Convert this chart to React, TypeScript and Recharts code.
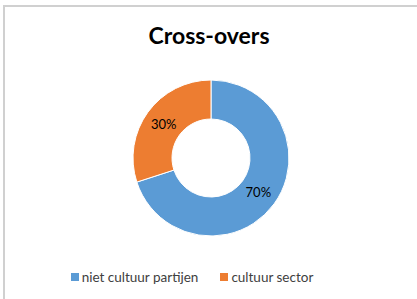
import React from "react";
import { PieChart, Pie, Cell, Legend } from "recharts";

const categories = ["niet cultuur partijen", "cultuur sector"];
const values = [70, 30];
const COLORS = ["#5B9BD5", "#ED7D31"];

const data = categories.map((name, i) => ({ name, value: values[i] }));

const RADIAN = Math.PI / 180;
const FONT = "Lato, 'Open Sans', sans-serif";

const renderLabel = (props: any) => {
  const { cx, cy, midAngle, innerRadius, outerRadius, percent } = props;
  const r = (innerRadius + outerRadius) / 2;
  const x = cx + r * Math.cos(-midAngle * RADIAN);
  const y = cy + r * Math.sin(-midAngle * RADIAN);
  return (
    <text
      x={x}
      y={y}
      fill="#000"
      textAnchor="middle"
      dominantBaseline="central"
      fontSize={13}
      fontFamily={FONT}
    >
      {`${Math.round(percent * 100)}%`}
    </text>
  );
};

const renderLegend = () => (
  <div
    style={{
      display: "flex",
      justifyContent: "center",
      fontFamily: FONT,
      fontSize: 13.5,
      color: "#404040",
    }}
  >
    {categories.map((name, i) => (
      <div
        key={name}
        style={{
          display: "flex",
          alignItems: "center",
          marginRight: i === 0 ? 22 : 0,
        }}
      >
        <span
          style={{
            width: 8,
            height: 8,
            background: COLORS[i],
            display: "inline-block",
            marginRight: 3,
          }}
        />
        <span>{name}</span>
      </div>
    ))}
  </div>
);

export default function App() {
  return (
    <div
      style={{
        position: "absolute",
        left: 3,
        top: 5,
        width: 420,
        height: 300,
        borderLeft: "2px solid #d0d0d0",
        borderTop: "2px solid #d0d0d0",
        background: "#fff",
      }}
    >
      <div
        style={{
          position: "absolute",
          left: -3,
          top: 14,
          width: 414,
          textAlign: "center",
          fontFamily: FONT,
          fontWeight: 700,
          fontSize: 23,
          color: "#000",
        }}
      >
        Cross-overs
      </div>
      <PieChart
        width={414}
        height={294}
        margin={{ top: 0, right: 0, bottom: 0, left: 0 }}
        style={{ position: "absolute", left: -2, top: -2 }}
      >
        <Pie
          data={data}
          dataKey="value"
          nameKey="name"
          cx={208}
          cy={153}
          innerRadius={39}
          outerRadius={78}
          startAngle={90}
          endAngle={-270}
          stroke="#fff"
          strokeWidth={1}
          label={renderLabel}
          labelLine={false}
          isAnimationActive={false}
        >
          {data.map((entry, index) => (
            <Cell key={`cell-${index}`} fill={COLORS[index]} />
          ))}
        </Pie>
        <Legend
          content={renderLegend}
          layout="horizontal"
          verticalAlign="bottom"
          wrapperStyle={{ top: 264, bottom: "auto", left: -18, width: 414 }}
        />
      </PieChart>
    </div>
  );
}
